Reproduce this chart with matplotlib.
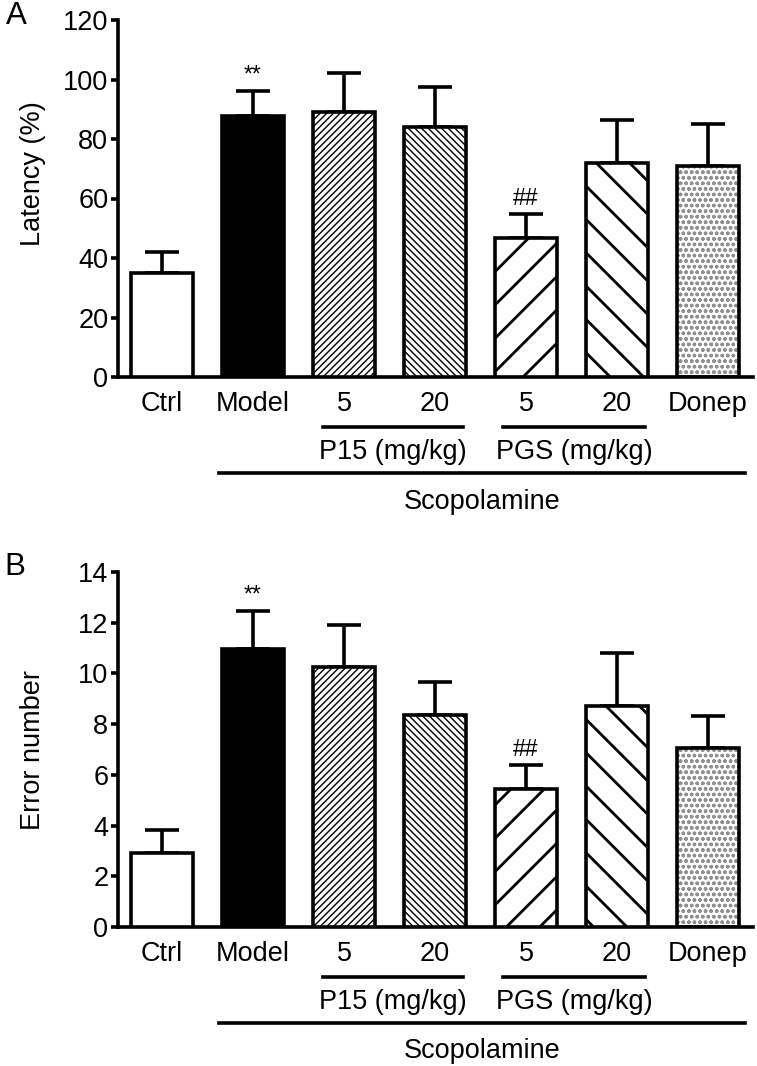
import matplotlib
matplotlib.use("Agg")
import matplotlib.pyplot as plt
import matplotlib.transforms as mtransforms
import numpy as np

# ---- data ----
groups = ["Ctrl", "Model", "5", "20", "5", "20", "Donep"]
latency_mean = [35.0, 87.7, 89.1, 84.0, 46.7, 71.9, 70.9]
latency_sem = [7.0, 8.4, 13.1, 13.4, 8.1, 14.5, 14.1]
error_mean = [2.92, 10.96, 10.25, 8.36, 5.44, 8.71, 7.06]
error_sem = [0.91, 1.50, 1.65, 1.30, 0.95, 2.09, 1.26]
latency_marks = {1: "**", 4: "##"}
error_marks = {1: "**", 4: "##"}
latency_ticks = [0, 20, 40, 60, 80, 100, 120]
error_ticks = [0, 2, 4, 6, 8, 10, 12, 14]

# ---- styles ----
plt.rcParams["font.family"] = ["Liberation Sans", "DejaVu Sans"]
FS = 19.5
LW = 2.6
fills = ["white", "black", "white", "white", "white", "white", "white"]
hatches = [None, None, "/////", "\\\\\\\\\\", "/", "\\", None]
hatch_lw = [1.0, 1.0, 1.0, 1.0, 2.0, 2.0, 1.0]

W, H = 757, 1066
fig = plt.figure(figsize=(W / 100, H / 100), dpi=100)


def panel(rect, means, sems, ticks, ylabel, marks, letter, letter_pos, ylabel_y):
    ax = fig.add_axes(rect)
    x = np.arange(len(groups))
    width = 0.68
    for i in x:
        with plt.rc_context({"hatch.linewidth": hatch_lw[i]}):
            if groups[i] == "Donep":
                ax.bar(x[i], means[i], width, color="white", edgecolor="#909090",
                       linewidth=0, hatch="ooo", zorder=2)
                ax.bar(x[i], means[i], width, fill=False, edgecolor="black",
                       linewidth=LW, zorder=3)
            else:
                b = ax.bar(x[i], means[i], width, color=fills[i], edgecolor="black",
                           linewidth=LW, hatch=hatches[i], zorder=3)
                for p in b:
                    try:
                        p.set_hatch_linewidth(hatch_lw[i])
                    except Exception:
                        pass
    ax.errorbar(x, means, yerr=[np.zeros(len(x)), sems], fmt="none", ecolor="black",
                elinewidth=LW, capsize=12.5, capthick=LW, zorder=1)
    for i, s in marks.items():
        ax.annotate(s, xy=(x[i], means[i] + sems[i]), xytext=(0, 3),
                    textcoords="offset points", ha="center", va="bottom",
                    fontsize=FS - 3)
    ax.set_xlim(-0.4835, 6.495)
    ax.set_ylim(ticks[0], ticks[-1])
    ax.set_yticks(ticks)
    ax.set_yticklabels([str(t) for t in ticks], fontsize=FS)
    ax.set_xticks(x)
    ax.set_xticklabels(groups, fontsize=FS)
    ax.tick_params(axis="y", length=5, width=LW, pad=2)
    ax.tick_params(axis="x", length=0, pad=10)
    for sp in ["top", "right"]:
        ax.spines[sp].set_visible(False)
    for sp in ["left", "bottom"]:
        ax.spines[sp].set_linewidth(LW)
    ax.text(-0.134, ylabel_y, ylabel, rotation=90, ha="center", va="center",
            fontsize=FS, transform=ax.transAxes)
    trans = mtransforms.blended_transform_factory(ax.transData, ax.transAxes)
    # group lines
    for (x0, x1, label) in [(1.77, 3.31, "P15 (mg/kg)"), (3.75, 5.31, "PGS (mg/kg)")]:
        ax.plot([x0, x1], [-0.140, -0.140], color="black", lw=LW, transform=trans,
                clip_on=False)
        ax.text((x0 + x1) / 2, -0.211, label, ha="center", va="center", fontsize=FS,
                transform=trans)
    ax.plot([0.63, 6.41], [-0.270, -0.270], color="black", lw=LW, transform=trans,
            clip_on=False)
    ax.text((0.63 + 6.41) / 2, -0.350, "Scopolamine", ha="center", va="center",
            fontsize=FS, transform=trans)
    fig.text(letter_pos[0] / W, 1 - letter_pos[1] / H, letter, ha="center",
             va="center", fontsize=FS + 3)
    return ax


panel([118 / W, 1 - 377 / H, 635 / W, 357 / H], latency_mean, latency_sem,
      latency_ticks, "Latency (%)", latency_marks, "A", (16, 16), 0.57)
panel([118 / W, 1 - 927 / H, 635 / W, 355 / H], error_mean, error_sem,
      error_ticks, "Error number", error_marks, "B", (15, 567), 0.5)

fig.savefig("out.png", dpi=100)
